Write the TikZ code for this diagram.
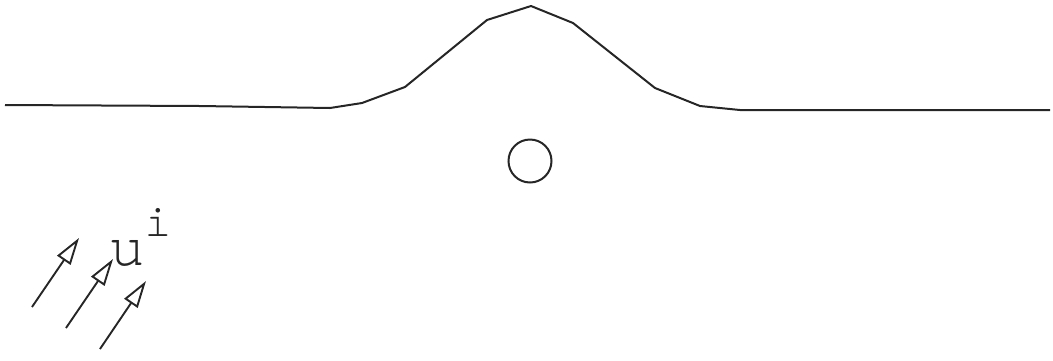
\documentclass[tikz,border=0pt]{standalone}
\usepackage{fontspec}
\newfontfamily\courfont{TeX Gyre Cursor}
\usetikzlibrary{arrows.meta}
\tikzset{
  curve/.style={line width=2pt, black!85, line join=round},
  ball/.style={circle, draw=black!85, line width=2pt, minimum size=43pt, inner sep=0pt},
  wave/.style={line width=1.9pt, black!85, -{Triangle[open, length=27pt, width=16pt, line width=1.9pt]}},
  lbl/.style={inner sep=0pt, text=black!85}
}
\begin{document}
\begin{tikzpicture}[x=1pt, y=-1pt]
\useasboundingbox (0,0) rectangle (1053,360);
% surface profile
\coordinate (L) at (5,105);
\coordinate (R) at (1050,110);
\draw[curve] (L) -- (200,106) -- (330,108) -- (362,103) -- (405,87) -- (487,20) -- (531,6) -- (573,23) -- (655,88) -- (700,106) -- (740,110) -- (R);
% obstacle
\node[ball] (obs) at (530,161) {};
% incident wave arrows
\coordinate (a1s) at (32,307); \coordinate (a1e) at (79,238);
\coordinate (a2s) at (66,328); \coordinate (a2e) at (113,259);
\coordinate (a3s) at (100,349); \coordinate (a3e) at (146,281);
\draw[wave] (a1s) -- (a1e);
\draw[wave] (a2s) -- (a2e);
\draw[wave] (a3s) -- (a3e);
% label
\node[lbl, font=\courfont\fontsize{60}{60}\selectfont, anchor=base] (u) at (127,265) {u};
\node[lbl, font=\courfont\fontsize{46}{46}\selectfont, anchor=base] (i) at (158,236) {i};
\end{tikzpicture}
\end{document}
